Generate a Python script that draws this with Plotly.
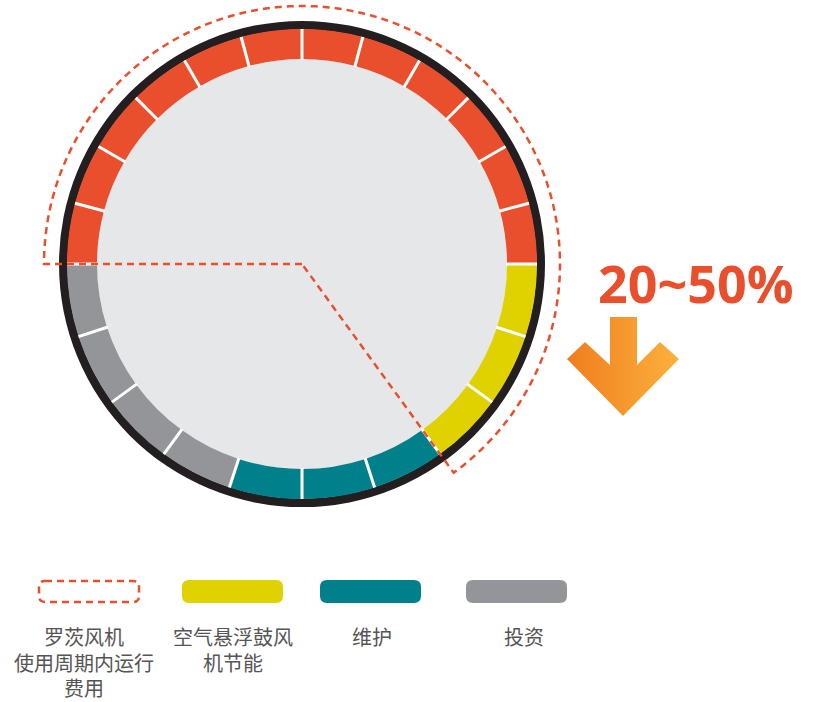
import numpy as np
import plotly.graph_objects as go

# ---------------- data ----------------
groups = ["罗茨风机运行费用", "空气悬浮鼓风机节能", "维护", "投资"]
shares = [50, 15, 15, 20]          # percent of the full circle
segments = [12, 3, 3, 4]           # number of tick segments per group
colors = ["#e94f2d", "#dfd200", "#00808a", "#939598"]
dashed_groups = 2                  # dashed outline encloses the first two groups

legend_labels = [["罗茨风机", "使用周期内运行", "费用"],
                 ["空气悬浮鼓风", "机节能"],
                 ["维护"],
                 ["投资"]]
legend_styles = ["dashed", "#dfd200", "#00808a", "#939598"]
callout_text = "20~50%"

# ---------------- geometry / style ----------------
W, H = 814, 702
CX, CY = 302, 264           # circle centre (px from top-left)
R_MAX = 262
R_IN, R_OUT, R_BLACK = 205, 235, 243
R_DASH = 258
RED = "#e94f2d"

fig = go.Figure()

# inner light disk
fig.add_trace(go.Barpolar(r=[R_IN], base=[0], theta=[0], width=[360],
                          marker=dict(color="#e6e7e8", line=dict(width=0)),
                          hoverinfo="skip", showlegend=False))
# black outer ring
fig.add_trace(go.Barpolar(r=[R_BLACK - R_OUT + 0.5], base=[R_OUT - 0.5], theta=[0], width=[360],
                          marker=dict(color="#231f20", line=dict(width=0)),
                          hoverinfo="skip", showlegend=False))

# segments
thetas, widths, cols, bounds = [], [], [], []
cum = -90.0
for share, n, c in zip(shares, segments, colors):
    span = share * 3.6
    w = span / n
    for k in range(n):
        bounds.append(cum + w * k)
        thetas.append(cum + w * (k + 0.5))
        widths.append(w)
        cols.append(c)
    cum += span

fig.add_trace(go.Barpolar(r=[R_OUT - R_IN] * len(thetas), base=[R_IN] * len(thetas),
                          theta=thetas, width=widths,
                          marker=dict(color=cols, line=dict(width=0)),
                          hoverinfo="skip", showlegend=False))

# white dividers
dr, dt = [], []
for b in bounds:
    dr += [R_IN - 1, R_OUT, None]
    dt += [b, b, None]
fig.add_trace(go.Scatterpolar(r=dr, theta=dt, mode="lines",
                              line=dict(color="white", width=3),
                              hoverinfo="skip", showlegend=False))

# dashed sector outline around first groups
end_angle = -90 + sum(shares[:dashed_groups]) * 3.6
arc_t = np.linspace(-90, end_angle, 240)
sr = [0] + [R_DASH] * len(arc_t) + [0]
st = [-90] + list(arc_t) + [end_angle]
fig.add_trace(go.Scatterpolar(r=sr, theta=st, mode="lines",
                              line=dict(color=RED, width=2.5, dash="7px,5px"),
                              hoverinfo="skip", showlegend=False))

# arrow (decoration) with horizontal gradient
ax = [610, 637, 637, 660, 679, 623, 567, 585, 610, 610]
ay = [317, 317, 365, 342, 359, 416, 359, 342, 365, 317]
fig.add_trace(go.Scatter(x=ax, y=ay, mode="lines", fill="toself",
                         line=dict(width=0, color="rgba(0,0,0,0)"),
                         fillgradient=dict(type="horizontal",
                                           colorscale=[[0, "#f07d1e"], [1, "#fbb13c"]]),
                         hoverinfo="skip", showlegend=False))

# legend swatches
def rrect(x0, y0, x1, y1, r):
    return (f"M{x0+r},{y0} L{x1-r},{y0} Q{x1},{y0} {x1},{y0+r} L{x1},{y1-r} "
            f"Q{x1},{y1} {x1-r},{y1} L{x0+r},{y1} Q{x0},{y1} {x0},{y1-r} "
            f"L{x0},{y0+r} Q{x0},{y0} {x0+r},{y0} Z")

sw_x = [38, 182, 320, 466]
sw_w = 101
shapes = []
annotations = []
label_cx = [84, 233, 372, 524]
line_y = [636.5, 662, 687.5]
for i, (lines, sty) in enumerate(zip(legend_labels, legend_styles)):
    x0 = sw_x[i]
    if sty == "dashed":
        shapes.append(dict(type="path", xref="x", yref="y",
                           path=rrect(x0 + 1, 581, x0 + sw_w, 602, 6),
                           line=dict(color=RED, width=2.5, dash="7px,5px"),
                           fillcolor="rgba(0,0,0,0)"))
    else:
        shapes.append(dict(type="path", xref="x", yref="y",
                           path=rrect(x0, 580, x0 + sw_w, 603, 7),
                           line=dict(width=0), fillcolor=sty))
    for j, txt in enumerate(lines):
        annotations.append(dict(x=label_cx[i], y=line_y[j], xref="x", yref="y",
                                text=txt, showarrow=False, xanchor="center", yanchor="middle",
                                borderpad=0,
                                font=dict(family="Noto Sans CJK SC", size=20, color="#555555")))

annotations.append(dict(x=696, y=282, xref="x", yref="y", text=f"<b>{callout_text}</b>",
                        showarrow=False, xanchor="center", yanchor="middle",
                        font=dict(family="Open Sans", size=52, color=RED)))

fig.update_layout(
    width=W, height=H, margin=dict(l=0, r=0, t=0, b=0),
    paper_bgcolor="white", plot_bgcolor="rgba(0,0,0,0)",
    xaxis=dict(range=[0, W], visible=False, domain=[0, 1], fixedrange=True),
    yaxis=dict(range=[H, 0], visible=False, domain=[0, 1], fixedrange=True),
    polar=dict(
        domain=dict(x=[(CX - R_MAX) / W, (CX + R_MAX) / W],
                    y=[(H - CY - R_MAX) / H, (H - CY + R_MAX) / H]),
        bgcolor="rgba(0,0,0,0)",
        radialaxis=dict(range=[0, R_MAX], visible=False, showgrid=False),
        angularaxis=dict(visible=False, rotation=90, direction="clockwise", showgrid=False),
    ),
    shapes=shapes, annotations=annotations, showlegend=False,
)

fig.write_html("out.html", config={"displayModeBar": False},
               post_script="document.body.style.margin='0';document.body.style.overflow='hidden';")
